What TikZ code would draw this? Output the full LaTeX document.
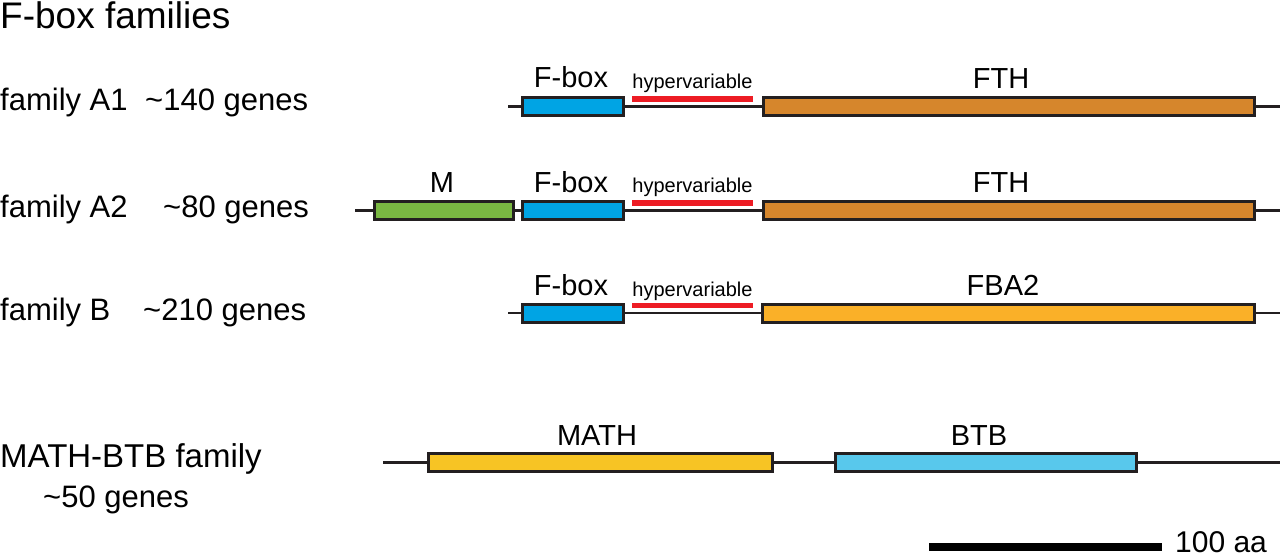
\documentclass[tikz,border=0pt]{standalone}
\usepackage{fontspec}
\setmainfont{Liberation Sans}
\definecolor{outl}{RGB}{35,31,32}
\definecolor{fbox}{RGB}{0,164,228}
\definecolor{fth}{RGB}{214,134,44}
\definecolor{fba}{RGB}{250,176,40}
\definecolor{mgreen}{RGB}{122,184,66}
\definecolor{mathc}{RGB}{247,196,36}
\definecolor{btbc}{RGB}{88,200,236}
\definecolor{hvred}{RGB}{237,28,36}
\begin{document}
\begin{tikzpicture}[x=1pt,y=-1pt,
  dom/.style={draw=outl,line width=3pt,minimum height=18pt,inner sep=0pt,rectangle},
  backbone/.style={draw=outl,line width=2.5pt},
  hvbar/.style={fill=hvred,draw=none,minimum width=121pt,minimum height=5.5pt,inner sep=0pt},
  lbl/.style={anchor=base west,inner sep=0pt,font=\fontsize{31}{36}\selectfont},
  dlbl/.style={anchor=base,inner sep=0pt,font=\fontsize{29}{34}\selectfont},
  hvlbl/.style={anchor=base,inner sep=0pt,font=\fontsize{20}{24}\selectfont}]
\useasboundingbox (0,0) rectangle (1280,556);

% title
\node[anchor=base west,inner sep=0pt,font=\fontsize{37}{42}\selectfont] (title) at (0,29) {F-box families};

% row labels
\node[lbl] (a1n) at (0,111) {family A1};
\node[lbl] (a1g) at (145,111) {\textasciitilde140 genes};
\node[lbl] (a2n) at (0,218) {family A2};
\node[lbl] (a2g) at (163,218) {\textasciitilde80 genes};
\node[lbl] (bn) at (0,320) {family B};
\node[lbl] (bg) at (143,320) {\textasciitilde210 genes};
\node[lbl,font=\fontsize{33}{38}\selectfont] (mbn) at (0,467) {MATH-BTB family};
\node[lbl] (mbg) at (43,507) {\textasciitilde50 genes};

% backbones
\coordinate (r1s) at (508,106.5); \coordinate (r1e) at (1280,106.5);
\coordinate (r2s) at (355,210.5); \coordinate (r2e) at (1280,210.5);
\coordinate (r3s) at (508,313);   \coordinate (r3e) at (1280,313);
\coordinate (r4s) at (383,462.5); \coordinate (r4e) at (1280,462.5);
\draw[backbone] (r1s) -- (r1e);
\draw[backbone] (r2s) -- (r2e);
\draw[backbone] (r3s) -- (r3e);
\draw[backbone] (r4s) -- (r4e);

% row 1
\node[dom,fill=fbox,minimum width=101pt] (f1) at (573,106.5) {};
\node[hvbar] (h1) at (692.5,99) {};
\node[dom,fill=fth,minimum width=491pt] (fth1) at (1009,106.5) {};
\node[dlbl] (f1l) at (571,88) {F-box};
\node[hvlbl] (h1l) at (692.5,89) {hypervariable};
\node[dlbl] (fth1l) at (1001,89) {FTH};

% row 2
\node[dom,fill=mgreen,minimum width=139pt] (m2) at (444,210.5) {};
\node[dom,fill=fbox,minimum width=101pt] (f2) at (573,210.5) {};
\node[hvbar] (h2) at (692.5,203) {};
\node[dom,fill=fth,minimum width=491pt] (fth2) at (1009,210.5) {};
\node[dlbl] (m2l) at (442,193) {M};
\node[dlbl] (f2l) at (571,193) {F-box};
\node[hvlbl] (h2l) at (692.5,193) {hypervariable};
\node[dlbl] (fth2l) at (1001,193) {FTH};

% row 3
\node[dom,fill=fbox,minimum width=101pt] (f3) at (573,313) {};
\node[hvbar] (h3) at (692.5,305.5) {};
\node[dom,fill=fba,minimum width=492pt] (fba3) at (1008.5,313) {};
\node[dlbl] (f3l) at (571,295) {F-box};
\node[hvlbl] (h3l) at (692.5,296) {hypervariable};
\node[dlbl] (fba3l) at (1003,295) {FBA2};

% row 4
\node[dom,fill=mathc,minimum width=344pt] (math4) at (600.5,462.5) {};
\node[dom,fill=btbc,minimum width=301pt] (btb4) at (986,462.5) {};
\node[dlbl] (math4l) at (597,445) {MATH};
\node[dlbl] (btb4l) at (979,445) {BTB};

% scale bar
\node[fill=black,draw=none,inner sep=0pt,minimum width=233pt,minimum height=8pt] (sb) at (1045.5,547) {};
\node[anchor=base west,inner sep=0pt,font=\fontsize{30}{34}\selectfont] (sbl) at (1175,552) {100 aa};
\end{tikzpicture}
\end{document}
